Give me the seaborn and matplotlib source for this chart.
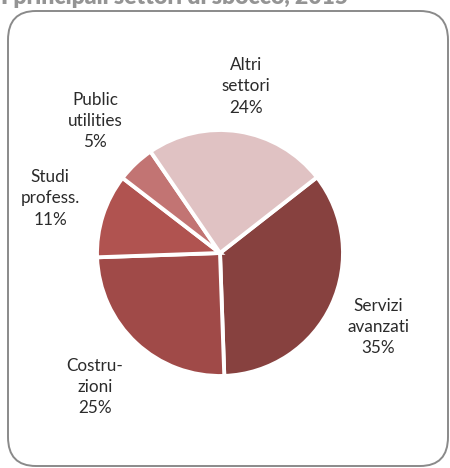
import matplotlib
matplotlib.use('Agg')
import numpy as np
import matplotlib.pyplot as plt
from matplotlib.patches import FancyBboxPatch
import seaborn as sns

sns.set_theme(style='white')
plt.rcParams['font.family'] = ['Lato', 'DejaVu Sans']

# data
sectors = ['Servizi\navanzati', 'Costru-\nzioni', 'Studi\nprofess.', 'Public\nutilities', 'Altri\nsettori']
shares = [35, 25, 11, 5, 24]
colors = ['#87413F', '#A04A48', '#B05350', '#C27473', '#E0C2C3']
label_dist = [1.42, 1.49, 1.45, 1.48, 1.37]
title = 'I principali settori di sbocco, 2015'

W, H = 450, 468
fig = plt.figure(figsize=(W / 100, H / 100), dpi=100)

# rounded frame, kept behind the pie
frame = FancyBboxPatch((8 / W, 1 - 466 / H), 440 / W, 455 / H,
                       boxstyle='round,pad=0,rounding_size=0.062',
                       transform=fig.transFigure, facecolor='none',
                       edgecolor='#8a8a8a', linewidth=1.4, zorder=-1)
fig.patches.append(frame)

# title is partly cut off at the top, as in the original
fig.text(1 / W, 1 - 4 / H, title, ha='left', va='baseline', fontsize=16.5,
         fontweight='heavy', color='#949494')

# pie axes: centre (220, 253), radius 123 px
cx, cy, r = 220, 253, 123
ax = fig.add_axes([(cx - r) / W, (H - cy - r) / H, 2 * r / W, 2 * r / H])
labels = [f'{s}\n{v}%' for s, v in zip(sectors, shares)]
wedges, texts = ax.pie(shares, labels=labels, colors=colors, startangle=38,
                       counterclock=False, labeldistance=1.45,
                       wedgeprops=dict(edgecolor='white', linewidth=2.8),
                       textprops=dict(fontsize=12.3, color='#2b2b2b', linespacing=1.4))
for w, t, d in zip(wedges, texts, label_dist):
    mid = np.deg2rad((w.theta1 + w.theta2) / 2)
    t.set_position((d * np.cos(mid), d * np.sin(mid)))
    t.set_horizontalalignment('center')
    t.set_verticalalignment('center')
    t.set_multialignment('center')
ax.set_xlim(-1, 1)
ax.set_ylim(-1, 1)
ax.set_aspect('auto')
ax.axis('off')

fig.savefig('out.png', dpi=100)
